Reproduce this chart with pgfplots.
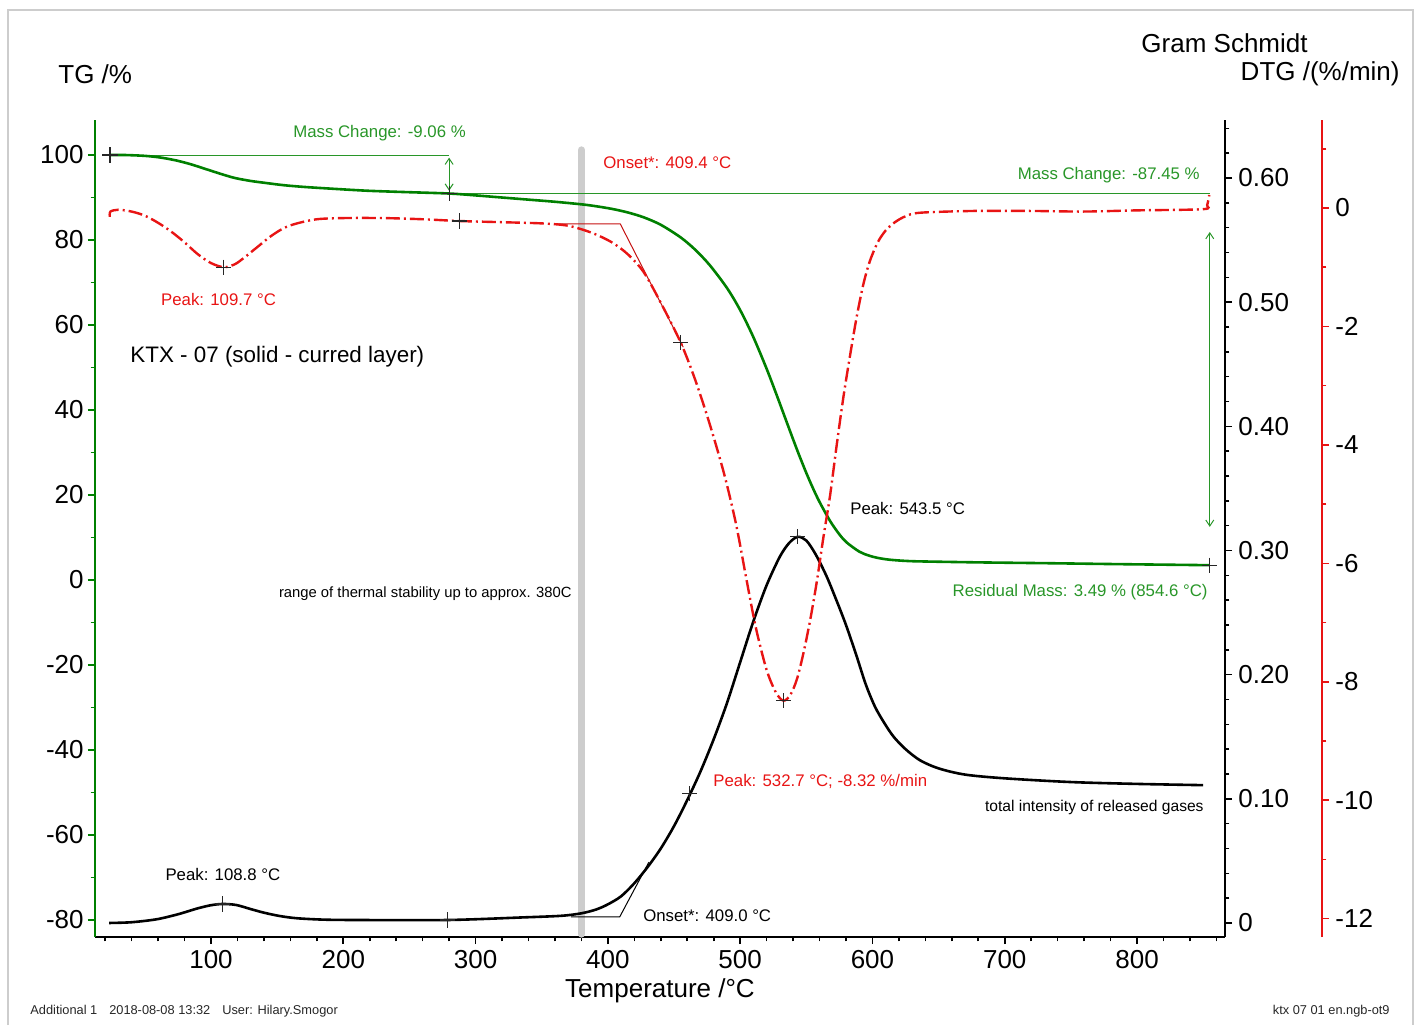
\documentclass[border=0pt]{standalone}
\usepackage{fontspec}
\setmainfont{Liberation Sans}
\usepackage{pgfplots}
\pgfplotsset{compat=1.18}
\usetikzlibrary{arrows.meta}

\definecolor{tgGreen}{RGB}{0,128,0}
\definecolor{annGreen}{RGB}{40,150,40}
\definecolor{dtgRed}{RGB}{232,20,20}
\definecolor{barGray}{RGB}{205,205,205}
\definecolor{frameGray}{RGB}{205,205,205}

\newcommand{\fsz}[1]{\fontsize{#1}{#1}\selectfont}

% common frame for the stacked axes (origin = lower left of plot box)
\pgfplotsset{
  base/.style={
    scale only axis, width=565pt, height=408.5pt,
    at={(0pt,0pt)}, anchor=south west,
    xmin=12.31, xmax=866.5, clip=false,
    tick align=outside, major tick length=3.5pt, minor tick length=2.2pt,
    tick label style={font=\fsz{13}},
    axis line style={line width=1pt, -},
  },
  cross/.style={only marks, mark=+, mark size=3.8pt, black!85,
    mark options={line width=0.6pt}},
}

\begin{document}
\begin{tikzpicture}
\path[use as bounding box] (-47.5pt,-44pt) rectangle (664.5pt,468.5pt);

% ---------- TG (left axis) ----------
\begin{axis}[base,
  axis x line*=bottom, axis y line*=left,
  x axis line style={black}, y axis line style={tgGreen},
  xtick={100,200,300,400,500,600,700,800},
  xticklabels={100,200,300,400,500,600,700,800},
  minor xtick={20,40,60,80,120,140,160,180,220,240,260,280,320,340,360,380,420,440,460,480,520,540,560,580,620,640,660,680,720,740,760,780,820,840,860},
  xtick style={black, line width=0.8pt},
  ymin=-84, ymax=108.24,
  ytick={-80,-60,-40,-20,0,20,40,60,80,100},
  yticklabels={-80,-60,-40,-20,0,20,40,60,80,100},
  minor ytick={-70,-50,-30,-10,10,30,50,70,90},
  ytick style={tgGreen, line width=0.8pt},
  yticklabel style={inner sep=2pt},
  xticklabel style={inner sep=3pt},
]
% stability limit
\draw[barGray, line width=3.6pt, line cap=round] (axis cs:380,101.2) -- (axis cs:380,-83.3);

% mass change construction
\draw[annGreen, line width=0.5pt] (axis cs:23.7,100) -- (axis cs:280,100);
\draw[annGreen, line width=0.5pt] (axis cs:280,90.94) -- (axis cs:855,90.94);
\draw[annGreen, line width=0.5pt, {Straight Barb[length=3pt,width=4pt]}-{Straight Barb[length=3pt,width=4pt]}]
  (axis cs:280,99.4) -- (axis cs:280,91.6);
\draw[annGreen, line width=0.5pt, {Straight Barb[length=3pt,width=4pt]}-{Straight Barb[length=3pt,width=4pt]}]
  (axis cs:855,81.9) -- (axis cs:855,12.5);

\addplot[tgGreen, line width=1.3pt, smooth] coordinates {
(23.7,100)(35,100)(50,99.8)(62,99.4)(74,98.7)(85,97.8)(97,96.6)(108,95.5)
(118,94.6)(130,93.9)(142,93.4)(155,92.9)(170,92.5)(190,92.1)(218,91.6)
(245,91.3)(280,90.94)(300,90.5)(320,90.0)(340,89.5)(360,89.0)(380,88.4)
(390,88.0)(403,87.33)(415,86.49)(427,85.35)(440,83.58)(455,80.62)
(466,77.72)(477,74.09)(490,68.73)(500,63.52)(510,57.14)(520,49.71)
(527,44.03)(533,38.99)(540,33.12)(545,29.05)(550,25.19)(555,21.62)
(560,18.37)(568,13.88)(575,10.74)(580.5,8.84)(590,6.69)(597,5.78)
(603,5.27)(610,4.89)(616,4.69)(625,4.5)(636,4.38)(680,4.15)(734,3.95)
(790,3.72)(854.6,3.49)
};
\addplot[cross] coordinates {(23.7,100)(280,90.94)(854.6,3.49)};

% texts
\node[annGreen, font=\fsz{8.4}, inner sep=0pt] at (axis cs:227.4,105.2) {Mass Change: -9.06 \%};
\node[dtgRed, font=\fsz{8.4}, inner sep=0pt, anchor=west] at (axis cs:396.3,98.1) {Onset*: 409.4 °C};
\node[annGreen, font=\fsz{8.4}, inner sep=0pt, anchor=east] at (axis cs:847.6,95.3) {Mass Change: -87.45 \%};
\node[dtgRed, font=\fsz{8.4}, inner sep=0pt] at (axis cs:105.7,66.1) {Peak: 109.7 °C};
\node[black, font=\fsz{11.2}, inner sep=0pt, anchor=west] at (axis cs:38.8,52.5) {KTX - 07 (solid - curred layer)};
\node[black, font=\fsz{8.4}, inner sep=0pt, anchor=west] at (axis cs:583,16.9) {Peak: 543.5 °C};
\node[annGreen, font=\fsz{8.4}, inner sep=0pt, anchor=east] at (axis cs:853.6,-2.8) {Residual Mass: 3.49 \% (854.6 °C)};
\node[black, font=\fsz{7.4}, inner sep=0pt, anchor=east] at (axis cs:372.9,-3.3) {range of thermal stability up to approx. 380C};
\node[dtgRed, font=\fsz{8.4}, inner sep=0pt, anchor=west] at (axis cs:479.5,-47.5) {Peak: 532.7 °C; -8.32 \%/min};
\node[black, font=\fsz{7.8}, inner sep=0pt, anchor=east] at (axis cs:850.6,-53.6) {total intensity of released gases};
\node[black, font=\fsz{8.4}, inner sep=0pt] at (axis cs:109,-69.4) {Peak: 108.8 °C};
\node[black, font=\fsz{8.4}, inner sep=0pt, anchor=west] at (axis cs:426.5,-79.1) {Onset*: 409.0 °C};
\end{axis}

% ---------- Gram Schmidt (first right axis) ----------
\begin{axis}[base,
  axis x line=none, axis y line*=right,
  y axis line style={black},
  ymin=-0.0113, ymax=0.6467,
  ytick={0,0.1,0.2,0.3,0.4,0.5,0.6},
  yticklabels={0,0.10,0.20,0.30,0.40,0.50,0.60},
  minor ytick={0.02,0.04,0.06,0.08,0.12,0.14,0.16,0.18,0.22,0.24,0.26,0.28,0.32,0.34,0.36,0.38,0.42,0.44,0.46,0.48,0.52,0.54,0.56,0.58,0.62,0.64},
  ytick style={black, line width=0.8pt},
  yticklabel style={inner sep=3pt},
]
\addplot[black, line width=0.5pt] coordinates {(372,0.005)(409,0.005)(431,0.049)};
\addplot[black, line width=1.3pt, smooth] coordinates {
(23,0.0)(40,0.0006)(59,0.003)(75,0.007)(90,0.0118)(100,0.0143)(108.8,0.0153)
(119,0.0145)(130,0.0112)(140,0.0083)(152,0.0056)(165,0.0038)(185,0.0027)
(210,0.0024)(279,0.0024)(336,0.0045)(365,0.0058)(380,0.0078)(391,0.0108)
(400,0.0150)(410,0.0215)(420,0.032)(430,0.045)(440,0.060)(450,0.078)
(460,0.099)(470,0.122)(480,0.148)(490,0.177)(500,0.210)(510,0.243)
(520,0.272)(530,0.295)(537,0.306)(543.5,0.311)(550,0.308)(557,0.297)
(565,0.280)(572,0.262)(580,0.240)(588,0.215)(595,0.192)(602,0.174)
(609,0.161)(616,0.150)(625,0.140)(636,0.131)(650,0.1245)(670,0.1195)
(700,0.1165)(750,0.1135)(800,0.112)(850,0.111)
};
\addplot[cross] coordinates {(108.8,0.0153)(279,0.0024)(462,0.104)(543.5,0.311)};
\end{axis}

% ---------- DTG data (shares the plot box) ----------
\begin{axis}[base, hide axis, ymin=-12.31, ymax=1.486]
\addplot[dtgRed!85!black, line width=0.5pt] coordinates {(362,-0.27)(409.4,-0.27)(457,-2.35)};
\addplot[dtgRed, line width=1.2pt, smooth, dash pattern=on 7pt off 2pt on 1pt off 2pt] coordinates {
(23.5,-0.15)(24,-0.06)(30,-0.03)(40,-0.06)(50,-0.13)(60,-0.25)(70,-0.40)
(80,-0.58)(90,-0.78)(100,-0.93)(109.7,-1.0)(118,-0.95)(125,-0.84)
(135,-0.66)(145,-0.48)(155,-0.34)(165,-0.26)(180,-0.19)(200,-0.17)
(230,-0.17)(260,-0.19)(288,-0.22)(320,-0.24)(350,-0.26)(370,-0.30)
(388,-0.42)(403,-0.58)(415,-0.78)(427,-1.08)(440,-1.60)(455,-2.27)
(466,-2.90)(477,-3.65)(488,-4.50)(497,-5.35)(505,-6.30)(512,-7.10)
(520,-7.80)(527,-8.18)(532.7,-8.32)(538,-8.22)(543,-7.95)(548,-7.50)
(553,-6.95)(558,-6.30)(563,-5.55)(568,-4.85)(573,-4.00)(578,-3.20)
(583,-2.50)(588,-1.85)(593,-1.30)(598,-0.90)(604,-0.58)(610,-0.38)
(617,-0.24)(625,-0.14)(636,-0.08)(676,-0.05)(720,-0.05)(760,-0.06)
(800,-0.04)(850,-0.02)(853,0.05)(854.6,0.22)
};
\addplot[cross] coordinates {(109.7,-1.0)(288,-0.22)(455,-2.27)(532.7,-8.32)};
\end{axis}

% ---------- DTG scale (second right axis, offset) ----------
\begin{axis}[base, at={(48.5pt,0pt)},
  axis x line=none, axis y line*=right,
  y axis line style={dtgRed},
  ymin=-12.31, ymax=1.486,
  ytick={-12,-10,-8,-6,-4,-2,0},
  yticklabels={-12,-10,-8,-6,-4,-2,0},
  minor ytick={-11,-9,-7,-5,-3,-1,1},
  ytick style={dtgRed, line width=0.8pt},
  yticklabel style={inner sep=3pt},
]
\end{axis}

% ---------- titles and page furniture ----------
\node[font=\fsz{13}, anchor=west, inner sep=0pt] at (-18.5pt,431.5pt) {TG /\%};
\node[font=\fsz{13}, anchor=east, inner sep=0pt] at (606.5pt,447pt) {Gram Schmidt};
\node[font=\fsz{13}, anchor=east, inner sep=0pt] at (652.5pt,431.5pt) {DTG /(\%/min)};
\node[font=\fsz{13}, inner sep=0pt] at (282.5pt,-27pt) {Temperature /°C};
\node[font=\fsz{6.4}, anchor=west, inner sep=0pt, black!85] at (-32.5pt,-37pt)
  {Additional 1\hspace{6pt}2018-08-08 13:32\hspace{6pt}User: Hilary.Smogor};
\node[font=\fsz{6.4}, anchor=east, inner sep=0pt, black!85] at (647.5pt,-37pt) {ktx 07 01 en.ngb-ot9};
\draw[frameGray, line width=0.6pt] (-43.5pt,-44pt) -- (-43.5pt,463.5pt) -- (659pt,463.5pt) -- (659pt,-44pt);
\end{tikzpicture}
\end{document}
